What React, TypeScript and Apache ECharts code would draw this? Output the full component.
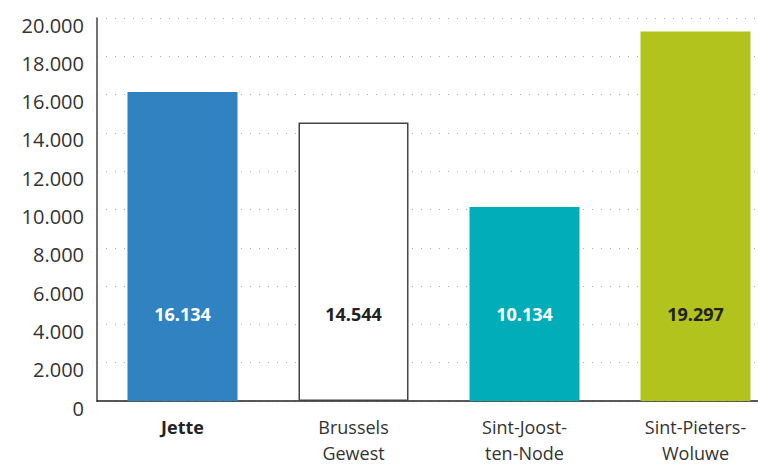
import React, { useEffect, useRef } from "react";
import * as echarts from "echarts";

const categories = ["Jette", "Brussels\nGewest", "Sint-Joost-\nten-Node", "Sint-Pieters-\nWoluwe"];
const values = [16134, 14544, 10134, 19297];
const barColors = ["#3182c1", "#ffffff", "#00adb8", "#b1c31c"];
const labelColors = ["#ffffff", "#222222", "#ffffff", "#222222"];
const yTicks = [0, 2000, 4000, 6000, 8000, 10000, 12000, 14000, 16000, 18000, 20000];

const fmt = (v: number) => String(v).replace(/\B(?=(\d{3})+(?!\d))/g, ".");

export default function App() {
  const ref = useRef<HTMLDivElement>(null);
  useEffect(() => {
    if (!ref.current) return;
    const chart = echarts.init(ref.current, null, { renderer: "svg" });
    chart.setOption({
      animation: false,
      backgroundColor: "#ffffff",
      textStyle: { fontFamily: "Open Sans" },
      grid: {
        left: 97,
        width: 684,
        top: 18,
        height: 383,
        containLabel: false,
        outerBoundsMode: "none",
      },
      xAxis: {
        type: "category",
        data: categories,
        axisLine: { show: true, lineStyle: { color: "#222", width: 1.5 } },
        axisTick: { show: false },
        axisLabel: {
          interval: 0,
          fontSize: 18,
          color: "#333",
          lineHeight: 26,
          margin: 13,
          fontFamily: "Open Sans",
          formatter: (v: string) => (v === "Jette" ? "{b|" + v + "}" : v),
          rich: { b: { fontWeight: "bold", fontSize: 18, color: "#222", fontFamily: "Open Sans" } },
        },
      },
      yAxis: {
        type: "value",
        min: yTicks[0],
        max: yTicks[yTicks.length - 1],
        interval: 2000,
        axisLine: { show: true, lineStyle: { color: "#444", width: 1.5 } },
        axisTick: { show: false },
        splitLine: { show: true, lineStyle: { color: "#aaa", type: [1, 8], width: 1 } },
        axisLabel: {
          fontSize: 20,
          color: "#333",
          margin: 13,
          fontFamily: "Open Sans",
          verticalAlign: "top",
          lineHeight: 14,
          formatter: (v: number) => fmt(v),
        },
      },
      series: [
        {
          type: "bar",
          barWidth: 110,
          data: values.map((v, i) => ({
            value: v,
            itemStyle: {
              color: barColors[i],
              borderColor: i === 1 ? "#444" : barColors[i],
              borderWidth: i === 1 ? 1.5 : 0,
            },
            label: { color: labelColors[i] },
          })),
          label: {
            show: true,
            position: "insideBottom",
            distance: 78,
            fontSize: 18,
            fontWeight: "bold",
            fontFamily: "Open Sans",
            formatter: (p: any) => fmt(p.value),
          },
        },
      ],
    });
    return () => chart.dispose();
  }, []);
  return (
    <div
      ref={ref}
      style={{ position: "fixed", left: 0, top: 0, width: 758, height: 464, background: "#fff" }}
    />
  );
}
